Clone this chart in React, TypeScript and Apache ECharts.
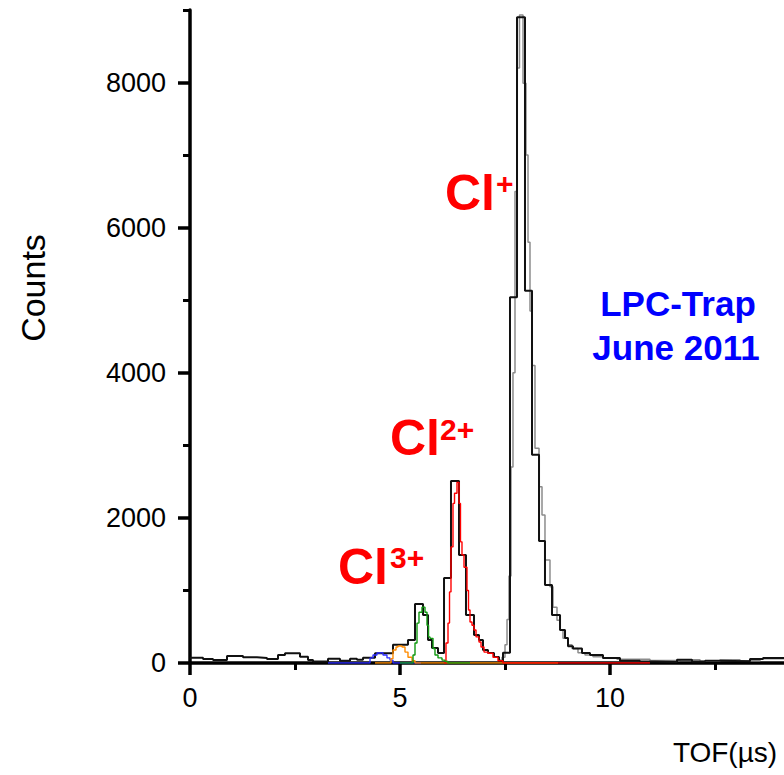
import React, { useEffect, useRef } from "react";
import * as echarts from "echarts";

// Black histogram (coarse bins): left bin edge (µs) and counts
const blackTof = [0, 0.31, 0.548, 0.881, 1.262, 1.595, 1.833, 2.095, 2.262, 2.619, 2.81, 2.929, 3.286, 3.571, 3.81, 3.976, 4.119, 4.405, 4.833, 5.19, 5.357, 5.548, 5.667, 5.762, 5.905, 6.048, 6.214, 6.405, 6.571, 6.762, 6.881, 6.976, 7.095, 7.238, 7.357, 7.452, 7.619, 7.786, 7.976, 8.143, 8.31, 8.452, 8.619, 8.81, 8.929, 9.0, 9.119, 9.333, 9.524, 9.833, 10.238, 10.714, 11.071, 11.595, 11.952, 12.262, 12.571, 13.333, 13.643, 14.2];
const blackCounts = [73, 55, 40, 96, 78, 69, 55, 110, 134, 87, 40, 20, 60, 30, 60, 45, 73, 133, 250, 317, 813, 660, 317, 207, 138, 1170, 2510, 1490, 660, 385, 317, 180, 138, 83, 15, 140, 5040, 8900, 5130, 2870, 1680, 1075, 660, 455, 345, 230, 200, 138, 110, 70, 30, 20, 15, 45, 20, 30, 25, 55, 70, 70];

// Grey histogram (fine bins, Cl+ region)
const greyTof = [7.333, 7.429, 7.5, 7.548, 7.595, 7.643, 7.69, 7.738, 7.786, 7.845, 7.929, 8.0, 8.048, 8.095, 8.143, 8.214, 8.31, 8.381, 8.452, 8.571, 8.643, 8.738, 8.81, 8.881, 9.0, 9.095, 9.238, 9.405, 9.595, 9.833, 10.167, 10.952, 11.667, 12.143, 12.619, 13.095, 13.571, 14.2];
const greyCounts = [40, 80, 250, 600, 1200, 2700, 4000, 6500, 8200, 8930, 7990, 7000, 5800, 4850, 4100, 2960, 2430, 2040, 1420, 1050, 770, 590, 455, 340, 250, 200, 140, 110, 85, 65, 50, 35, 45, 25, 45, 30, 60, 60];

// Cl2+ (red)
const redTof = [6.048, 6.095, 6.143, 6.179, 6.214, 6.262, 6.298, 6.357, 6.405, 6.44, 6.476, 6.524, 6.595, 6.631, 6.667, 6.714, 6.762, 6.81, 6.881, 6.929, 7.0, 7.095, 7.214, 7.333, 7.452, 10.952];
const redCounts = [0, 275, 550, 980, 1600, 2200, 2340, 2490, 2200, 1670, 1490, 1320, 1000, 730, 565, 520, 455, 360, 290, 220, 150, 135, 80, 30, 0, 0];

// Cl3+ (green)
const greenTof = [5.0, 5.31, 5.357, 5.405, 5.452, 5.524, 5.595, 5.643, 5.679, 5.714, 5.786, 5.833, 5.905, 6.0, 6.071, 6.143, 6.667];
const greenCounts = [0, 110, 275, 550, 700, 770, 700, 520, 360, 340, 200, 110, 70, 40, 20, 0, 0];

// orange
const orangeTof = [4.405, 4.786, 4.833, 4.905, 4.952, 5.048, 5.119, 5.19, 5.286, 5.357, 8.762];
const orangeCounts = [0, 60, 180, 220, 235, 220, 150, 80, 30, 0, 0];

// blue
const blueTof = [3.286, 4.286, 4.357, 4.452, 4.524, 4.595, 4.69, 4.762, 4.833, 5.5];
const blueCounts = [0, 70, 110, 138, 142, 110, 70, 40, 0, 0];

const xMajor = [0, 5, 10];
const xMinor = [2.5, 7.5, 12.5];
const yMajor = [0, 2000, 4000, 6000, 8000];
const yMinor = [1000, 3000, 5000, 7000, 9000];

const FONT = '"Liberation Sans", Arial, sans-serif';

function zip(xs: number[], ys: number[]) {
  return xs.map((x, i) => [x, ys[i]]);
}

function histSeries(name: string, xs: number[], ys: number[], color: string, width: number, z: number) {
  return {
    name,
    type: "line",
    step: "end",
    data: zip(xs, ys),
    showSymbol: false,
    symbol: "none",
    clip: true,
    z,
    lineStyle: { color, width },
    silent: true,
  };
}

function txt(text: string, x: number, y: number, font: string, fill: string, align: string, extra: any = {}) {
  return {
    type: "text",
    x,
    y,
    ...extra,
    style: { text, font, fill, align, verticalAlign: "middle", textAlign: align, textVerticalAlign: "middle" },
  };
}

export default function App() {
  const ref = useRef<HTMLDivElement>(null);
  useEffect(() => {
    document.body.style.margin = "0";
    if (!ref.current) return;
    const chart = echarts.init(ref.current, null, { renderer: "svg" });
    const XMAX = 594 / 42;
    const axisCommon = {
      type: "value",
      splitLine: { show: false },
    };
    const red = "#ff0000";
    const blue = "#0000ff";
    chart.setOption({
      animation: false,
      backgroundColor: "#fff",
      grid: { left: 190, top: 10, right: 0, bottom: 112, containLabel: false },
      xAxis: [
        {
          ...axisCommon,
          min: 0,
          max: XMAX,
          position: "bottom",
          axisLine: { show: true, onZero: false, lineStyle: { color: "#000", width: 3.5 } },
          axisTick: { show: true, inside: false, length: 12, customValues: xMajor, lineStyle: { color: "#000", width: 3.5 } },
          axisLabel: { customValues: xMajor, fontSize: 27, color: "#000", margin: 21, fontFamily: FONT, formatter: (v: number) => String(v) },
        },
        {
          ...axisCommon,
          min: 0,
          max: XMAX,
          position: "bottom",
          axisLine: { show: false, onZero: false },
          axisTick: { show: true, inside: false, length: 7, customValues: xMinor, lineStyle: { color: "#000", width: 3 } },
          axisLabel: { show: false },
        },
      ],
      yAxis: [
        {
          ...axisCommon,
          min: 0,
          max: 9000,
          position: "left",
          axisLine: { show: true, onZero: false, lineStyle: { color: "#000", width: 3.5 } },
          axisTick: { show: true, inside: false, length: 12, customValues: yMajor, lineStyle: { color: "#000", width: 3.5 } },
          axisLabel: { customValues: yMajor, fontSize: 27, color: "#000", margin: 24, fontFamily: FONT, formatter: (v: number) => String(v) },
        },
        {
          ...axisCommon,
          min: 0,
          max: 9000,
          position: "left",
          axisLine: { show: false, onZero: false },
          axisTick: { show: true, inside: false, length: 7, customValues: yMinor, lineStyle: { color: "#000", width: 3 } },
          axisLabel: { show: false },
        },
      ],
      series: [
        histSeries("grey", greyTof, greyCounts, "#8c8c8c", 1.5, 2),
        histSeries("black", blackTof, blackCounts, "#111", 2, 3),
        histSeries("blue", blueTof, blueCounts, "#2a2aff", 1.3, 4),
        histSeries("orange", orangeTof, orangeCounts, "#ff8c00", 1.4, 5),
        histSeries("red", redTof, redCounts, red, 1.4, 6),
        histSeries("green", greenTof, greenCounts, "#119911", 1.4, 7),
      ],
      graphic: [
        txt("Cl", 445, 193, `bold 50px ${FONT}`, red, "left"),
        txt("+", 496, 183, `bold 30px ${FONT}`, red, "left"),
        txt("Cl", 390, 438, `bold 50px ${FONT}`, red, "left"),
        txt("2+", 440, 429, `bold 30px ${FONT}`, red, "left"),
        txt("Cl", 338, 567, `bold 50px ${FONT}`, red, "left"),
        txt("3+", 390, 557, `bold 30px ${FONT}`, red, "left"),
        txt("LPC-Trap", 678, 303, `bold 35px ${FONT}`, blue, "center"),
        txt("June 2011", 676, 347, `bold 35px ${FONT}`, blue, "center"),
        txt("Counts", 33, 288, `34px ${FONT}`, "#000", "center", { rotation: Math.PI / 2 }),
        txt("TOF(\u00b5s)", 725, 752, `28px ${FONT}`, "#000", "center"),
      ],
    });
    return () => chart.dispose();
  }, []);
  return <div ref={ref} style={{ width: 784, height: 775 }} />;
}
